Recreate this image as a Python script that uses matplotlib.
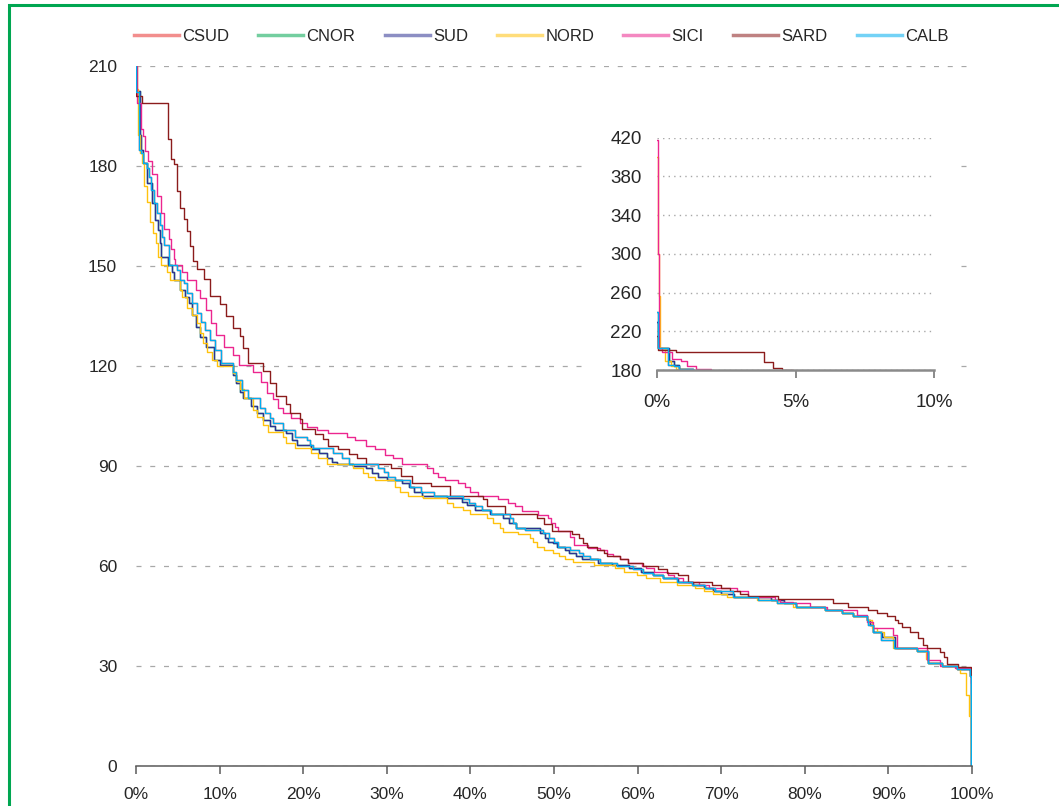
import numpy as np
import matplotlib
matplotlib.use("Agg")
import matplotlib.pyplot as plt
from matplotlib.lines import Line2D
from matplotlib.patches import Rectangle

plt.rcParams['font.family'] = ['Liberation Sans', 'DejaVu Sans']

# duration curves: (share of hours in %, price) step points
sud = [(0, 230), (0.05, 202.5), (0.45, 189.3), (0.6, 184.8), (0.8, 180.8), (1.3, 174.8),
       (1.9, 168.8), (2.3, 163.8), (2.65, 160.8), (2.85, 156.8), (3.05, 152.8), (3.8, 150.3),
       (4.3, 148.3), (4.6, 145.8), (5.3, 142.8), (5.9, 140.8), (6.3, 138.8), (6.65, 135.3),
       (7.2, 131.8), (7.65, 128.8), (8.4, 125.8), (9.3, 121.8), (10.0, 120.3), (11.55, 117.3),
       (12.0, 114.8), (12.4, 112.3), (12.8, 110.3), (13.7, 108), (14.5, 105.8), (15.2, 103.8),
       (16.0, 102), (16.6, 100.8), (18.0, 99.8), (18.7, 97.8), (19.3, 96.3), (20.9, 95),
       (21.9, 93.8), (22.9, 92.3), (23.5, 91.3), (24.0, 90.6), (26.0, 90), (27.5, 89.3),
       (28.2, 88), (28.9, 86.8), (30.0, 85.8), (31.8, 84.8), (32.6, 83.8), (33.3, 82.3),
       (34.2, 81), (37.2, 80.3), (39.0, 79.3), (39.6, 78.3), (40.6, 76.8), (42.3, 75.6),
       (43.9, 74.3), (44.6, 73), (45.5, 71.3), (48.3, 69.8), (48.9, 68.3), (49.3, 67.3),
       (49.9, 66.8), (50.4, 65.8), (51.3, 64.8), (51.8, 64), (52.6, 63), (53.3, 62),
       (55.3, 61), (57.0, 60.3), (59.0, 59.3), (60.4, 58.3), (61.8, 57.3), (63.0, 56.3),
       (64.8, 55.3), (66.6, 54.3), (68.0, 53.3), (69.0, 52.5), (70.0, 51.6), (71.5, 50.6),
       (76.0, 49.8), (77.5, 48.8), (79.0, 47.8), (82.4, 46.8), (84.4, 46), (85.8, 45),
       (87.4, 43.8), (87.8, 42.3), (88.2, 40.3), (89.2, 38.8), (90.8, 35.3), (93.4, 34.6),
       (94.7, 30.8), (96.4, 30), (98.2, 29), (99.8, 27), (99.9, 0), (100, 0)]

nord = [(0, 400), (0.03, 300), (0.07, 256), (0.12, 203), (0.3, 189.3), (0.5, 183.8),
        (0.7, 180.8), (1.0, 174), (1.3, 169.3), (1.65, 163.3), (2.0, 159.8), (2.45, 156.8),
        (2.65, 152.8), (3.05, 150.3), (3.75, 148.3), (4.05, 145.8), (5.25, 142.8), (5.5, 140.8),
        (6.15, 137.3), (6.75, 135.3), (7.25, 132.8), (7.7, 129.8), (8.0, 126.8), (8.55, 124.3),
        (9.05, 121.8), (9.75, 120), (11.55, 117.8), (11.95, 115.5), (12.4, 113), (12.9, 110.3),
        (14.0, 106.8), (14.5, 104.8), (15.2, 102.3), (15.75, 100.3), (17.6, 98.8), (18.0, 96.8),
        (19.0, 95.3), (20.9, 93.8), (21.8, 92.3), (22.9, 90.6), (26.0, 89.3), (27.2, 87.8),
        (27.8, 86.8), (28.6, 85.8), (31.0, 83.8), (31.6, 82.3), (32.5, 81), (34.3, 80.3),
        (37.2, 78.8), (37.9, 77.8), (39.1, 76.8), (40.0, 75.6), (42.0, 74.3), (42.7, 72.8),
        (43.5, 71.3), (43.9, 70.3), (45.7, 69.6), (47.1, 68.3), (47.5, 67.3), (48.0, 65.8),
        (48.8, 64.8), (49.9, 63.8), (50.6, 63), (51.3, 62), (52.3, 61.3), (54.8, 60.3),
        (57.3, 59.3), (58.4, 58.3), (59.9, 57.3), (61.0, 56.3), (62.7, 55.3), (64.7, 54.3),
        (66.9, 53.3), (68.0, 52.5), (69.0, 51.6), (70.7, 50.6), (74.3, 49.8), (76.7, 48.8),
        (78.6, 47.8), (82.4, 46.8), (84.5, 46), (85.8, 45), (87.4, 43.8), (88.0, 41.5),
        (88.6, 40.3), (89.5, 38.8), (90.6, 35.3), (93.4, 34.6), (94.5, 32), (94.8, 30.8),
        (96.4, 30), (98.2, 29), (98.6, 28), (99.3, 21.3), (99.7, 15), (99.85, 3),
        (99.95, 0), (100, 0)]

sici = [(0, 417), (0.05, 300), (0.07, 203), (0.18, 199), (0.55, 191), (0.85, 189),
        (1.1, 184.5), (1.4, 181.5), (1.95, 177.5), (2.5, 171), (3.0, 166), (3.4, 161),
        (3.9, 158), (4.2, 155), (4.5, 152), (4.7, 150.3), (5.55, 148.3), (6.15, 145.8),
        (7.15, 142.8), (7.65, 140.3), (8.4, 136.8), (9.0, 132.8), (9.6, 129.3), (10.5, 125.8),
        (11.6, 123.3), (12.3, 120.3), (14.0, 118.3), (15.0, 115.3), (15.7, 112), (16.4, 110),
        (17.0, 107.3), (17.6, 106), (18.6, 104.5), (19.6, 103), (20.4, 101.8), (21.6, 100.8),
        (23.0, 100), (25.2, 98.8), (26.2, 97.8), (27.5, 96), (28.6, 95), (29.8, 93.3),
        (30.7, 92.3), (31.8, 90.6), (34.8, 89.3), (35.5, 87.8), (36.1, 86.8), (37.0, 85.8),
        (38.5, 84.8), (39.3, 83.8), (40.0, 82.3), (40.9, 81), (43.3, 80), (44.5, 79),
        (45.3, 78), (46.2, 76.5), (48.1, 75.3), (49.3, 74.3), (49.7, 72.8), (50.1, 71.8),
        (50.5, 70.6), (51.9, 68.8), (52.4, 66.3), (54.1, 65.5), (55.5, 64.8), (56.3, 63.5),
        (57.1, 63), (57.9, 62), (58.9, 61), (60.5, 60), (61.0, 59.3), (62.0, 58.3),
        (63.6, 57.3), (64.4, 56.3), (65.4, 55.3), (67.3, 54.3), (68.5, 53.3), (71.9, 52.5),
        (73.2, 50.6), (76.5, 49.8), (77.0, 49.3), (78.6, 48.8), (80.6, 47.8), (82.7, 46.8),
        (86.2, 45.3), (87.5, 43.3), (88.2, 41.3), (90.6, 39.3), (91.0, 35.3), (94.6, 31.8),
        (96.2, 30), (98.0, 29.3), (99.9, 25), (100, 25)]

sard = [(0, 215), (0.05, 201), (0.7, 199), (3.85, 188), (4.2, 182), (4.5, 180.5),
        (4.9, 172.5), (5.3, 167.5), (5.7, 164), (6.1, 160.5), (6.5, 156), (6.8, 151.5),
        (7.3, 149), (8.1, 146), (8.9, 141), (10.0, 138.5), (10.8, 135), (11.6, 131.5),
        (12.4, 129), (12.8, 125.5), (13.4, 121), (15.2, 118.5), (16.0, 115), (16.8, 111),
        (18.0, 108.5), (18.4, 106), (19.6, 104), (19.9, 101), (21.4, 99.5), (22.4, 98),
        (23.0, 96), (24.2, 95), (25.5, 93.5), (26.4, 92.5), (27.5, 90.5), (30.5, 89.5),
        (31.7, 87), (33.0, 85), (35.3, 84), (37.6, 81), (41.5, 80), (42.0, 78),
        (44.1, 75.5), (48.0, 74.5), (48.8, 72.5), (49.8, 70.6), (52.2, 69.6), (53.0, 68.3),
        (53.5, 66.8), (54.0, 65.8), (55.2, 64.8), (56.0, 63.8), (56.3, 63), (57.9, 62),
        (58.9, 61), (60.6, 60), (62.4, 59), (63.5, 58), (64.8, 57.3), (66.0, 55.3),
        (68.9, 54.3), (70.0, 53.3), (71.1, 52.5), (72.3, 51.6), (73.2, 51), (76.8, 50),
        (83.4, 48.8), (85.2, 47.8), (87.6, 46.8), (88.6, 46), (89.8, 45), (90.8, 43.8),
        (91.2, 42.8), (91.6, 41.8), (92.6, 40.3), (93.5, 38.3), (94.1, 36.3), (94.6, 35.3),
        (96.2, 34.3), (96.7, 32.8), (97.0, 30.6), (98.3, 29.8), (99.85, 27.3), (99.95, 21.3),
        (100, 21.3)]

calb = [(0, 240), (0.03, 202.3), (0.4, 184.8), (0.6, 183.8), (0.8, 180.8), (1.3, 179.4),
        (1.6, 176.8), (1.8, 172.8), (2.1, 168.8), (2.5, 165.8), (2.9, 162.3), (3.1, 158.8),
        (3.4, 156.3), (3.9, 152.3), (4.0, 150.3), (4.9, 148.8), (5.25, 145.8), (5.7, 144.8),
        (6.1, 141.8), (6.75, 138.8), (7.3, 135.8), (7.8, 133.3), (8.3, 130.8), (8.8, 127.8),
        (9.5, 124.8), (10.2, 120.8), (11.55, 118.3), (12.0, 115.8), (12.7, 112.8), (13.45, 110.3),
        (14.8, 107.3), (15.4, 105.8), (16.0, 104.3), (16.4, 102.8), (17.6, 100.8), (19.0, 98.8),
        (20.4, 97.8), (20.8, 96.3), (21.2, 95.3), (23.6, 93.8), (24.6, 92.3), (25.5, 90.6),
        (29.0, 89.3), (29.7, 88.3), (30.2, 86.8), (31.0, 85.8), (32.8, 83.8), (34.1, 82.3),
        (35.7, 81), (39.1, 80), (39.8, 79), (40.5, 78), (41.4, 76.8), (42.5, 75.6),
        (44.7, 74.3), (45.1, 73), (45.5, 71.3), (46.5, 70.8), (48.7, 69.8), (49.4, 68.3),
        (50.0, 67.3), (50.5, 65.8), (51.9, 64.8), (53.0, 63.8), (53.5, 63), (54.3, 62),
        (55.5, 61), (57.5, 60), (59.5, 59), (60.6, 58), (61.9, 57.3), (63.0, 56.3),
        (64.7, 55.3), (66.5, 54.3), (68.1, 53.3), (69.3, 52.5), (71.4, 50.8), (74.4, 49.8),
        (76.7, 49), (77.5, 48.8), (79.0, 47.8), (82.4, 46.8), (84.4, 46), (85.8, 45),
        (87.4, 43.8), (87.6, 42.3), (88.2, 40.3), (89.1, 37.8), (90.7, 35.3), (93.4, 34.6),
        (94.7, 30.8), (96.4, 30), (98.2, 29), (99.8, 27), (99.9, 0), (100, 0)]

# CSUD and CNOR are not visible in the picture: they lie under the other curves
csud = list(calb)
cnor = list(sud)

zones = ['CSUD', 'CNOR', 'SUD', 'NORD', 'SICI', 'SARD', 'CALB']
series = [csud, cnor, sud, nord, sici, sard, calb]
colors = ['#E8312F', '#00A650', '#2E3192', '#FFC20E', '#EC268F', '#8B1C1C', '#00AEEF']

txt = '#262626'
fig = plt.figure(figsize=(10.59, 8.06), dpi=100)

ax = fig.add_axes([0.1284, 0.0496, 0.7894, 0.8685])
for name, data, c in zip(zones, series, colors):
    x, p = np.array(data).T
    ax.step(x, p, where='post', color=c, lw=1.0, label=name)

ax.set_xlim(0, 100)
ax.set_ylim(0, 210)
ax.set_xticks(np.arange(0, 101, 10))
ax.set_xticklabels(['%d%%' % v for v in range(0, 101, 10)])
ax.set_yticks(np.arange(0, 211, 30))
for s in ['left', 'right', 'top']:
    ax.spines[s].set_visible(False)
ax.spines['bottom'].set_color('#5a5a5a')
ax.spines['bottom'].set_linewidth(1.1)
ax.tick_params(axis='x', colors='#5a5a5a', length=6, width=1.1, pad=9, labelsize=12.5, labelcolor=txt)
ax.tick_params(axis='y', length=0, pad=13.5, labelsize=12.5, labelcolor=txt)
ax.yaxis.grid(True, color='#a8a8a8', linestyle=(0, (4, 7)), lw=0.9)
ax.set_axisbelow(True)

# white box behind the inset
fig.patches.append(Rectangle((0.557, 0.491), 0.345, 0.362, transform=fig.transFigure,
                             facecolor='white', edgecolor='none', zorder=1))

ins = fig.add_axes([0.6204, 0.5409, 0.2616, 0.2885])
ins.set_zorder(2)
for name, data, c in zip(zones, series, colors):
    x, p = np.array(data).T
    ins.step(x, p, where='post', color=c, lw=1.0)
ins.set_xlim(0, 10)
ins.set_ylim(180, 420)
ins.set_xticks([0, 5, 10])
ins.set_xticklabels(['0%', '5%', '10%'])
ins.set_yticks(np.arange(180, 421, 40))
for s in ['left', 'right', 'top']:
    ins.spines[s].set_visible(False)
ins.spines['bottom'].set_color('#8a8a8a')
ins.spines['bottom'].set_linewidth(1.8)
ins.spines['bottom'].set_zorder(5)
ins.tick_params(axis='x', colors='#8a8a8a', length=6, width=1.4, pad=11, labelsize=13.5, labelcolor=txt)
ins.tick_params(axis='y', length=0, pad=11, labelsize=13.5, labelcolor=txt)
ins.yaxis.grid(True, color='#a8a8a8', linestyle=(0, (1, 3)), lw=1.0)
ins.set_axisbelow(True)

handles = [Line2D([], [], color=c, lw=2.5, alpha=0.55) for c in colors]
fig.legend(handles, zones, loc='center', bbox_to_anchor=(0.511, 0.955), ncol=7,
           frameon=False, fontsize=12, handlelength=2.7, handletextpad=0.2,
           columnspacing=1.75, labelcolor=txt)

# green frame round the figure (it runs off the right and bottom edges)
fig.patches.append(Rectangle((0.0083, -0.05), 1.2, 0.9932 + 0.05, transform=fig.transFigure,
                             facecolor='none', edgecolor='#00A651', lw=2.2, zorder=3))

fig.savefig('out.png', dpi=100)
